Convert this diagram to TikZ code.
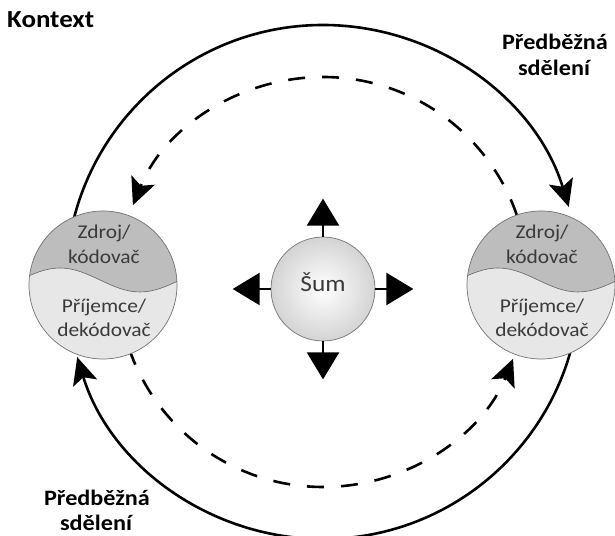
\documentclass[tikz,border=0pt]{standalone}
\usepackage{fontspec}
\setmainfont{Carlito}[FakeStretch=1.1]
\usetikzlibrary{arrows.meta}
\definecolor{topgray}{HTML}{BDBDBD}
\definecolor{lowgray}{HTML}{E7E7E7}
\definecolor{inkgray}{HTML}{3A3A3A}
\tikzset{
  party/.style={circle, draw=black!55, line width=0.7pt, minimum size=148pt, inner sep=0pt},
  partytext/.style={align=center, inner sep=0pt, text=inkgray, font=\fontsize{19.5}{24.5}\selectfont},
  noise/.style={circle, draw=black!55, line width=0.7pt, minimum size=104pt, inner sep=0pt, shading=radial, inner color=white, outer color=black!17},
  noisearrow/.style={line width=2.4pt, -{Triangle[length=27pt, width=32pt]}},
  ring/.style={line width=2.6pt, -{Stealth[length=27pt, width=25pt, inset=6pt]}},
  dashring/.style={ring, dash pattern=on 17pt off 17pt},
  tag/.style={inner sep=0pt, anchor=base, font=\fontsize{22}{27}\selectfont\bfseries}
}
\begin{document}
\begin{tikzpicture}[x=1pt, y=1pt]
    \useasboundingbox (0,0) rectangle (615,535);

    % Outer and inner loops
    \coordinate (hub) at (323,253);
    \draw[ring] ([shift={(180:257)}]hub) arc[start angle=180, end angle=17, radius=257];
    \draw[ring] ([shift={(0:257)}]hub) arc[start angle=0, end angle=-163, radius=257];
    \draw[dashring] ([shift={(0:205)}]hub) arc[start angle=0, end angle=158, radius=205];
    \draw[dashring] ([shift={(180:205)}]hub) arc[start angle=180, end angle=338, radius=205];

    % Source / receiver
    \foreach \nm/\px in {partyL/103, partyR/541} {
        \begin{scope}
            \clip (\px,250) circle (74);
            \fill[lowgray] (\px-80,170) rectangle (\px+80,330);
            \fill[topgray] (\px-83,255) sin (\px-43,267) cos (\px-3,255) sin (\px+37,243) cos (\px+77,255)
                -- (\px+90,255) -- (\px+90,330) -- (\px-90,330) -- cycle;
            \draw[black!60, line width=0.6pt] (\px-83,255) sin (\px-43,267) cos (\px-3,255) sin (\px+37,243) cos (\px+77,255) -- (\px+90,255);
        \end{scope}
        \node[party] (\nm) at (\px,250) {};
        \node[partytext] at ([shift={(1,40.5)}]\nm.center) {Zdroj/\\kódovač};
        \node[partytext] at ([shift={(1,-33)}]\nm.center) {Příjemce/\\dekódovač};
    }

    % Noise
    \node[noise] (sum) at (323,246) {};
    \node[partytext, anchor=base, font=\fontsize{23}{27}\selectfont] (sumtext) at ([yshift=-3]sum.center) {Šum};
    \foreach \dir/\ang in {north/90, south/270, east/0, west/180} {
        \draw[noisearrow] (sum.\dir) -- ++(\ang:38);
    }

    % Labels
    \node[tag, anchor=base west, font=\fontsize{24.5}{28}\selectfont\bfseries] (kontext) at (7,507) {Kontext};
    \node[tag] (preA) at (555,485) {Předběžná};
    \node[tag] (preB) at (554,459) {sdělení};
    \node[tag] (postA) at (97,30) {Předběžná};
    \node[tag] (postB) at (96,5) {sdělení};
\end{tikzpicture}
\end{document}
